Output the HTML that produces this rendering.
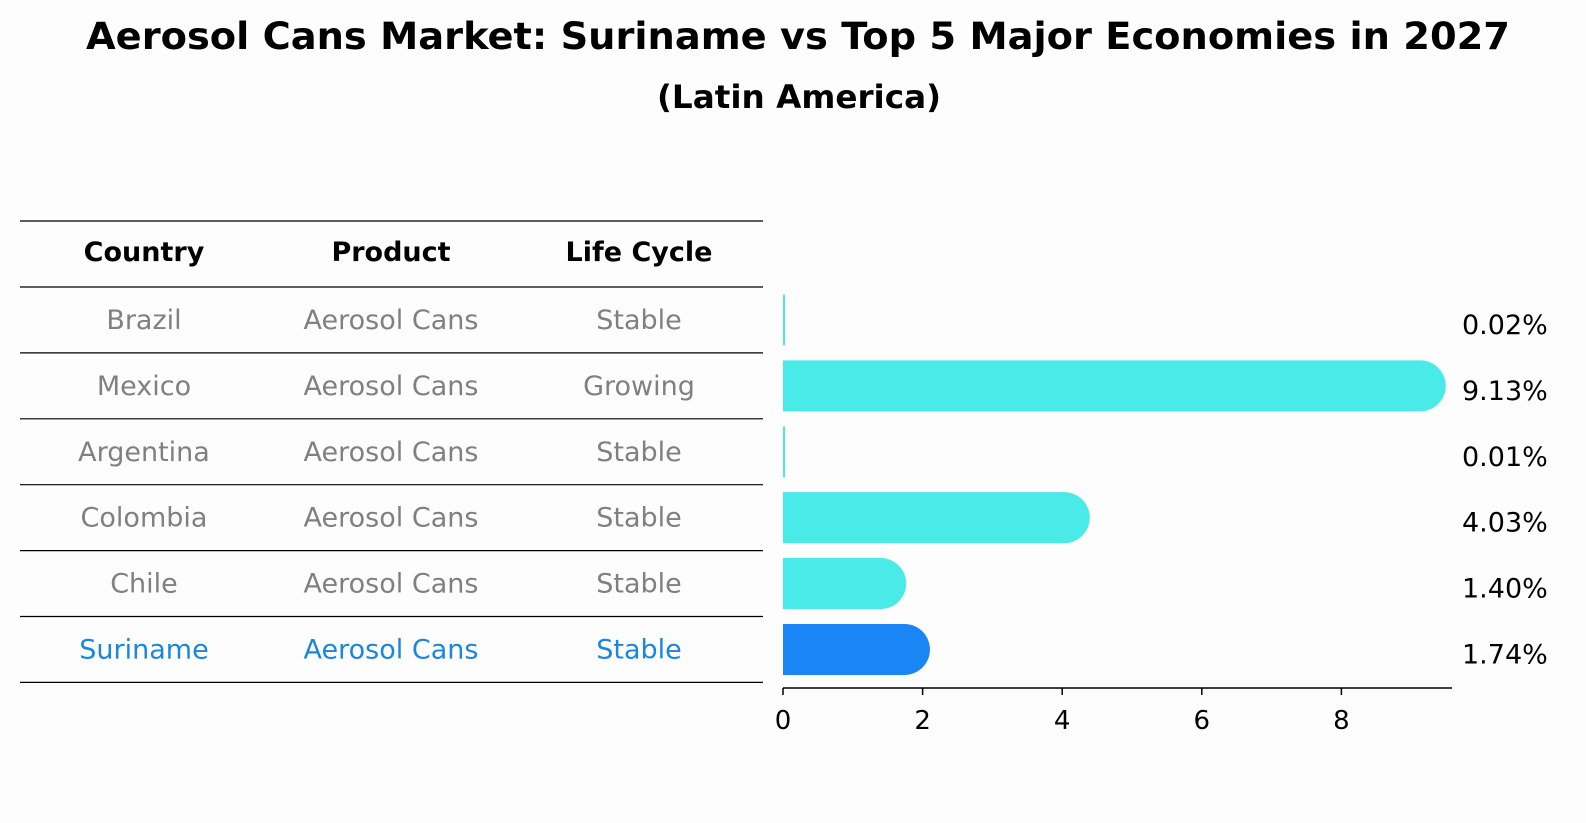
<!DOCTYPE html>
<html><head><meta charset="utf-8"><style>
html,body{margin:0;padding:0;overflow:hidden;width:1586px;height:823px;background:#fdfdfd;font-family:"DejaVu Sans","Liberation Sans",sans-serif;}
svg{display:block;}
</style></head><body>
<svg width="1586" height="823" viewBox="0 0 1586 823" xmlns="http://www.w3.org/2000/svg">
<rect width="1586" height="823" fill="#fdfdfd"/>
<text x="798" y="49" text-anchor="middle" font-size="37" font-weight="bold" font-family="DejaVu Sans, sans-serif" textLength="1424" lengthAdjust="spacingAndGlyphs">Aerosol Cans Market: Suriname vs Top 5 Major Economies in 2027</text>
<text x="799" y="108" text-anchor="middle" font-size="32" font-weight="bold" font-family="DejaVu Sans, sans-serif" textLength="284" lengthAdjust="spacingAndGlyphs">(Latin America)</text>
<g id="table"></g>
<g id="bars"></g>
</svg>
<script>
const countries=["Brazil","Mexico","Argentina","Colombia","Chile","Suriname"];
const products=["Aerosol Cans","Aerosol Cans","Aerosol Cans","Aerosol Cans","Aerosol Cans","Aerosol Cans"];
const lifecycles=["Stable","Growing","Stable","Stable","Stable","Stable"];
const values=[0.02,9.13,0.01,4.03,1.40,1.74];
const xTicks=[0,2,4,6,8];
const NS="http://www.w3.org/2000/svg";
const tbl=document.getElementById('table'), bars=document.getElementById('bars');
function mk(tag,attrs,parent){const e=document.createElementNS(NS,tag);for(const k in attrs)e.setAttribute(k,attrs[k]);parent.appendChild(e);return e;}
const x0=783, pxPerUnit=69.8;
function xs(v){return x0+v*pxPerUnit;}
const rowTop=287, rowH=65.9;
function rowCenter(i){return rowTop+rowH*(i+0.5);}
const lineYs=[221,287];
for(let i=1;i<=countries.length;i++)lineYs.push(rowTop+rowH*i);
lineYs.forEach((y)=>{const l=mk('line',{x1:20,x2:763,y1:y,y2:y,stroke:'#000','stroke-width':1.2},tbl);

});
const colX=[144,391,639];
["Country","Product","Life Cycle"].forEach((h,j)=>{const t=mk('text',{x:colX[j],y:261,'text-anchor':'middle','font-size':27,'font-weight':'bold','font-family':'DejaVu Sans, sans-serif'},tbl);t.textContent=h;

});
countries.forEach((c,i)=>{const col=i===countries.length-1?'#1a86e0':'#808080';
[c,products[i],lifecycles[i]].forEach((s,j)=>{const t=mk('text',{x:colX[j],y:rowCenter(i)+9,'text-anchor':'middle','font-size':27,fill:col,'font-family':'DejaVu Sans, sans-serif'},tbl);t.textContent=s;

});
const h=51, r=h/2, yc=rowCenter(i), xe=xs(values[i]);
const fill=i===countries.length-1?'#1a86f5':'#4aeae8';
let d;
if(values[i]<0.1){d=`M${x0} ${yc-h/2}h2v${h}h-2z`;}
else d=`M${x0} ${yc-h/2}H${xe}A${r} ${r} 0 0 1 ${xe} ${yc+h/2}H${x0}Z`;
const b=mk('path',{d:d,fill:fill},bars);


const lb=mk('text',{x:1462,y:yc+14,'font-size':27,'font-family':'DejaVu Sans, sans-serif'},bars);lb.textContent=values[i].toFixed(2)+'%';


});
const ax=mk('line',{x1:x0,x2:1452,y1:688,y2:688,stroke:'#000','stroke-width':1.5},bars);


xTicks.forEach(v=>{const tk=mk('line',{x1:xs(v),x2:xs(v),y1:688,y2:695,stroke:'#000','stroke-width':1.5},bars);


const t=mk('text',{x:xs(v),y:729,'text-anchor':'middle','font-size':26,'font-family':'DejaVu Sans, sans-serif'},bars);t.textContent=v;

});
</script>
</body></html>
